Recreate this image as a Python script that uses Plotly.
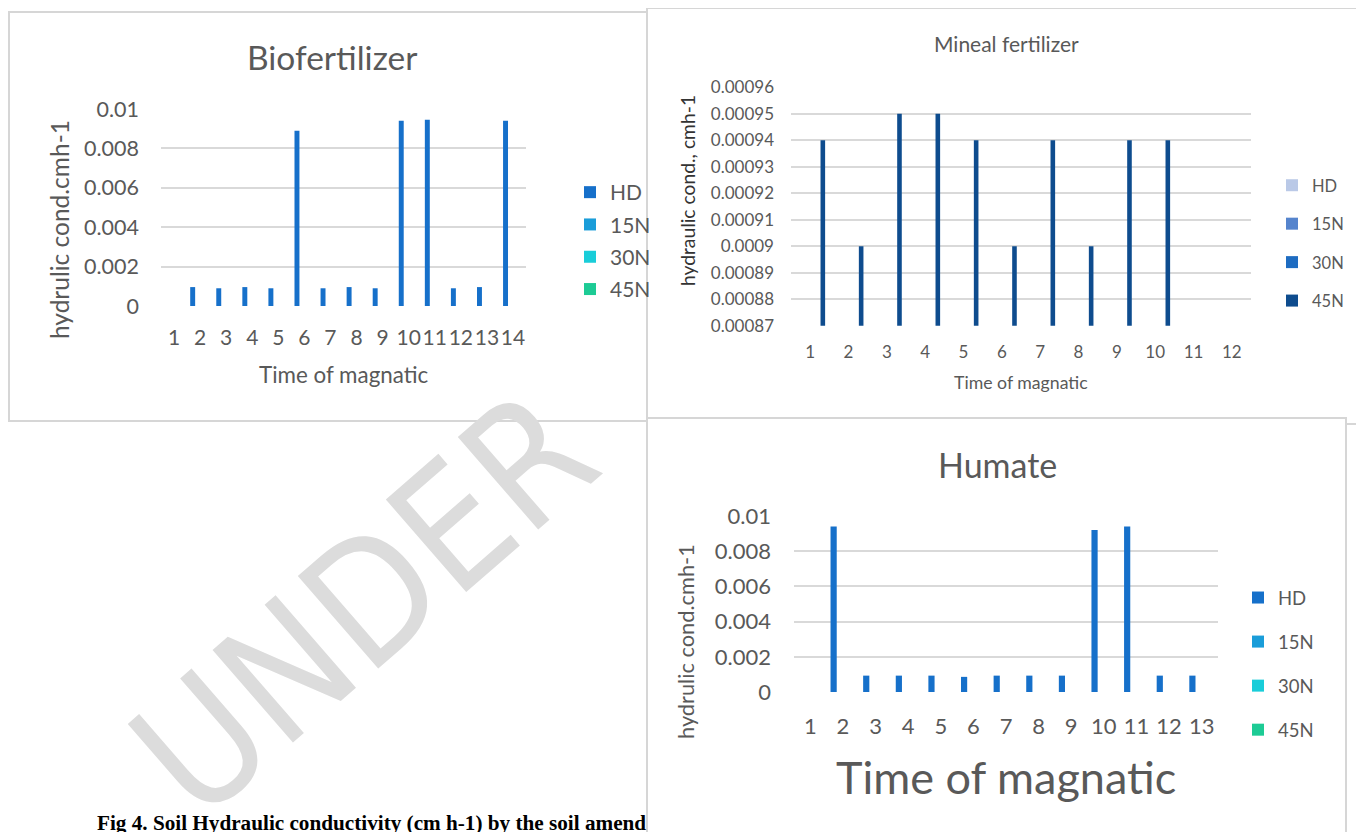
import plotly.graph_objects as go

W, H = 1364, 832
OFF = 8  # page body margin of the html page

# ---------------- data ----------------
series_names = ["HD", "15N", "30N", "45N"]

bio_times = ["1", "2", "3", "4", "5", "6", "7", "8", "9", "10", "11", "12", "13", "14"]
bio_hd = [None, 0.00096, 0.0009, 0.00096, 0.0009, 0.0089, 0.0009, 0.00096, 0.0009,
          0.0094, 0.00945, 0.0009, 0.00096, 0.0094]
bio_15n = [None] * 14
bio_30n = [None] * 14
bio_45n = [None] * 14
bio_ticks = [0, 0.002, 0.004, 0.006, 0.008, 0.01]
bio_ticktext = ["0", "0.002", "0.004", "0.006", "0.008", "0.01"]

min_times = ["1", "2", "3", "4", "5", "6", "7", "8", "9", "10", "11", "12"]
min_hd = [None] * 12
min_15n = [None] * 12
min_30n = [None] * 12
min_45n = [0.00094, 0.0009, 0.00095, 0.00095, 0.00094, 0.0009, 0.00094, 0.0009,
           0.00094, 0.00094, None, None]
min_ticks = [0.00087, 0.00088, 0.00089, 0.0009, 0.00091, 0.00092, 0.00093,
             0.00094, 0.00095, 0.00096]
min_ticktext = ["0.00087", "0.00088", "0.00089", "0.0009", "0.00091", "0.00092",
                "0.00093", "0.00094", "0.00095", "0.00096"]

hum_times = ["1", "2", "3", "4", "5", "6", "7", "8", "9", "10", "11", "12", "13"]
hum_hd = [None, 0.0094, 0.00093, 0.00093, 0.00093, 0.00086, 0.00093, 0.00093,
          0.00093, 0.0092, 0.0094, 0.00093, 0.00093]
hum_15n = [None] * 13
hum_30n = [None] * 13
hum_45n = [None] * 13
hum_ticks = [0, 0.002, 0.004, 0.006, 0.008, 0.01]
hum_ticktext = ["0", "0.002", "0.004", "0.006", "0.008", "0.01"]

# ---------------- styles ----------------
FONT = "Lato, 'Open Sans', sans-serif"
TXT = "#595959"
GRID = "#d9d9d9"
BOX = "#d6d6d6"
bio_colors = ["#1670CA", "#1A9DD9", "#19CDD9", "#1DCB95"]
min_colors = ["#BAC9E7", "#5584CD", "#1E6CC1", "#0E4C8E"]


def px_x(p):
    return (p - OFF) / W


def px_y(p):
    return 1 - (p - OFF) / H


fig = go.Figure()


def add_series(xname, yname, cats, series, colors, offsets, width, legend):
    for i, (name, vals) in enumerate(zip(series_names, series)):
        fig.add_trace(go.Bar(
            x=cats, y=vals, name=name, xaxis=xname, yaxis=yname,
            marker=dict(color=colors[i], line=dict(width=0)),
            offset=offsets[i], width=width, legend=legend,
            legendgroup=legend + name, showlegend=True,
        ))


add_series("x", "y", bio_times, [bio_hd, bio_15n, bio_30n, bio_45n], bio_colors,
           [-0.38, -0.19, 0.0, 0.19], 0.19, "legend")
add_series("x2", "y2", min_times, [min_hd, min_15n, min_30n, min_45n], min_colors,
           [-0.39, -0.17, 0.05, 0.27], 0.12, "legend2")
add_series("x3", "y3", hum_times, [hum_hd, hum_15n, hum_30n, hum_45n], bio_colors,
           [-0.38, -0.19, 0.0, 0.19], 0.19, "legend3")


def xax(domain, anchor, size, standoff):
    return dict(domain=domain, anchor=anchor, type="category", showgrid=False,
                zeroline=False, showline=False, ticks="", automargin=False,
                tickmode="linear", dtick=1, tickangle=0,
                tickfont=dict(family=FONT, size=size, color=TXT),
                ticklabelstandoff=standoff, fixedrange=True)


def yax(domain, anchor, rng, tv, tt, size, standoff):
    return dict(domain=domain, anchor=anchor, range=rng, tickmode="array",
                tickvals=tv, ticktext=tt, showgrid=True, gridcolor=GRID,
                gridwidth=1.5, zeroline=False, showline=False, ticks="",
                automargin=False,
                tickfont=dict(family=FONT, size=size, color=TXT),
                ticklabelstandoff=standoff, fixedrange=True)


def leg(x, y, size, gap):
    return dict(x=px_x(x), y=px_y(y), xanchor="left", yanchor="top",
                font=dict(family=FONT, size=size, color=TXT), bgcolor="rgba(0,0,0,0)",
                tracegroupgap=gap, traceorder="grouped", itemclick=False,
                itemdoubleclick=False)


fig.update_layout(
    width=W, height=H, margin=dict(l=0, r=0, t=0, b=0, pad=0, autoexpand=False),
    paper_bgcolor="white", plot_bgcolor="rgba(0,0,0,0)",
    barmode="overlay", showlegend=True,
    xaxis=xax([px_x(161), px_x(526)], "y", 21, 17),
    yaxis=yax([px_y(306), px_y(109)], "x", [0, 0.01], bio_ticks, bio_ticktext, 21.5, 21),
    xaxis2=xax([px_x(791), px_x(1251)], "y2", 17, 14),
    yaxis2=yax([px_y(325.7), px_y(87.3)], "x2", [0.00087, 0.00096], min_ticks,
               min_ticktext, 17, 16),
    xaxis3=xax([px_x(794), px_x(1218)], "y3", 22, 19),
    yaxis3=yax([px_y(692), px_y(516)], "x3", [0, 0.01], hum_ticks, hum_ticktext, 22, 22),
    legend=leg(570, 172, 21, 2),
    legend2=leg(1272, 168, 16.5, 14),
    legend3=leg(1238, 579, 18.5, 17),
)

# ---- panel boxes (drawn beneath the charts) ----
boxes = [(9, 12, 655, 421), (647, 8, 1361, 424), (647, 418, 1346, 850)]
for (x0, y0, x1, y1) in boxes:
    fig.add_shape(type="rect", xref="paper", yref="paper",
                  x0=px_x(x0), x1=px_x(x1), y0=px_y(y1), y1=px_y(y0),
                  fillcolor="white", line=dict(color=BOX, width=2), layer="below")

# ---- texts ----
def ann(text, x, y, size, color=TXT, angle=0, family=FONT, **kw):
    fig.add_annotation(text=text, x=px_x(x), y=px_y(y), xref="paper", yref="paper",
                       showarrow=False, textangle=angle, xanchor="center",
                       yanchor="middle", font=dict(family=family, size=size, color=color),
                       **kw)

# watermark
ann("UNDER", 364, 604, 168, color="#dcdcdc", angle=-41,
    family="'Liberation Sans Narrow', 'DejaVu Sans Condensed', 'Liberation Sans', sans-serif")

# Biofertilizer
ann("Biofertilizer", 332, 57, 33.5)
ann("hydrulic cond.cmh-1", 59, 230, 24.5, angle=-90)
ann("Time of magnatic", 344, 375, 22.4)

# Mineral
ann("Mineal fertilizer", 1006, 43, 21)
ann("hydraulic cond., cmh-1", 687, 191, 19.3, color="#333333", angle=-90)
ann("Time of magnatic", 1021, 382, 17.7)

# Humate
ann("Humate", 997, 464, 34)
ann("hydrulic cond.cmh-1", 685, 642, 21.8, angle=-90)
ann("Time of magnatic", 1006, 777, 45)

# caption
fig.add_annotation(text="<b>Fig 4. Soil Hydraulic conductivity (cm h-1) by the soil amend</b>",
                   x=px_x(95), y=px_y(823), xref="paper", yref="paper", showarrow=False,
                   xanchor="left", yanchor="middle",
                   font=dict(family="'Liberation Serif', 'Times New Roman', serif",
                             size=21.2, color="black"))

fig.write_html("out.html")
